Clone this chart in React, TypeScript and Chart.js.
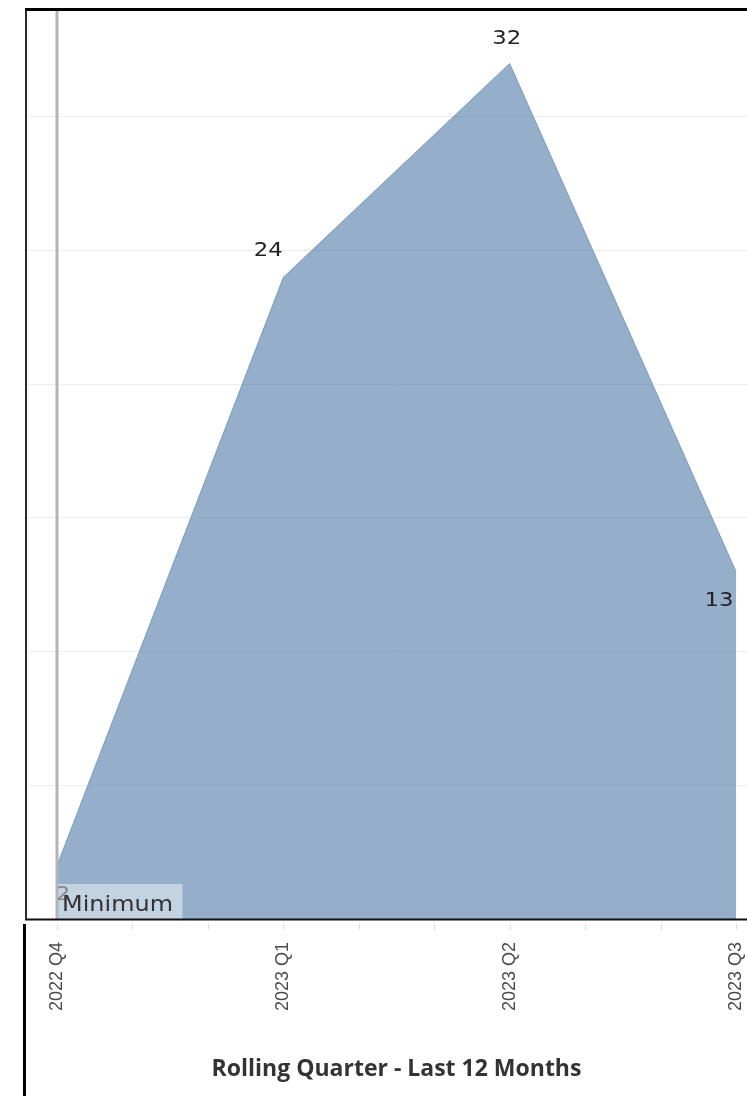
import React, { useEffect, useRef } from 'react';
import { Chart, registerables } from 'chart.js';

Chart.register(...registerables);

// ---- data ----
const quarters: string[] = ['2022 Q4', '2023 Q1', '2023 Q2', '2023 Q3'];
const counts: number[] = [2, 24, 32, 13];
const monthsPerQuarter = 3;
const referenceLabel = 'Minimum';
const axisTitle = 'Rolling Quarter - Last 12 Months';
const yStep = 5;
const yMax = 34;

const W = 767;
const H = 1096;
const STRETCH = 1.14;

function stretchedText(ctx: any, text: string, x: number, y: number, align: 'left' | 'center') {
  ctx.save();
  ctx.translate(x, y);
  ctx.scale(STRETCH, 1);
  ctx.textAlign = align;
  ctx.fillText(text, 0, 0);
  ctx.restore();
}

const decorPlugin = {
  id: 'decor',
  afterDatasetsDraw(chart: any) {
    const { ctx, chartArea, scales } = chart;
    const xs = scales.x;
    const { left, right, top, bottom } = chartArea;
    const meta = chart.getDatasetMeta(0);
    const offsets: [number, number][] = [
      [6, 29],
      [-15, -27],
      [-3, -25],
      [-17, 29],
    ];
    ctx.save();
    // data labels
    ctx.font = '20px "DejaVu Sans"';
    ctx.fillStyle = '#222222';
    ctx.textBaseline = 'middle';
    meta.data.forEach((pt: any, i: number) => {
      const o = offsets[i] || [0, -25];
      stretchedText(ctx, String(counts[i]), pt.x + o[0], pt.y + o[1], 'center');
    });
    // reference line at the first quarter
    const rx = xs.getPixelForValue(0);
    ctx.fillStyle = '#b4b4b4';
    ctx.fillRect(rx - 1.5, top, 3, bottom - top);
    // reference label box
    ctx.font = '21px "DejaVu Sans"';
    const tw = ctx.measureText(referenceLabel).width * STRETCH;
    ctx.fillStyle = 'rgba(255,255,255,0.45)';
    ctx.fillRect(rx + 1.5, bottom - 35, tw + 13, 35);
    ctx.fillStyle = '#333333';
    ctx.textBaseline = 'alphabetic';
    stretchedText(ctx, referenceLabel, rx + 5, bottom - 8, 'left');
    // borders
    ctx.fillStyle = '#000000';
    ctx.fillRect(left - 1, 8, right - left + 1, 3);
    ctx.fillStyle = '#2a2a2a';
    ctx.fillRect(left - 1, 10, 2, bottom - 10);
    ctx.fillStyle = '#111111';
    ctx.fillRect(left - 1, bottom - 0.5, right - left + 1, 2);
    // x pane left border
    ctx.fillStyle = '#000000';
    ctx.fillRect(left - 3, bottom + 5, 3, H - bottom - 5);
    // minor (month) ticks
    ctx.strokeStyle = '#dadada';
    ctx.lineWidth = 1;
    for (let k = 0; k <= (quarters.length - 1) * monthsPerQuarter; k++) {
      const x = Math.round(xs.getPixelForValue(k / monthsPerQuarter)) + 0.5;
      ctx.beginPath();
      ctx.moveTo(x, bottom + 5);
      ctx.lineTo(x, bottom + 11);
      ctx.stroke();
    }
    ctx.restore();
  },
};

export default function App() {
  const ref = useRef<HTMLCanvasElement | null>(null);
  useEffect(() => {
    if (!ref.current) return;
    const chart = new Chart(ref.current, {
      type: 'line',
      data: {
        datasets: [
          {
            data: counts.map((v, i) => ({ x: i, y: v })),
            fill: 'origin',
            backgroundColor: 'rgba(78,121,167,0.6)',
            borderColor: 'rgba(78,121,167,0.6)',
            borderWidth: 1,
            pointRadius: 0,
            tension: 0,
          },
        ],
      },
      options: {
        animation: false,
        responsive: false,
        maintainAspectRatio: false,
        layout: { padding: { left: 26, top: 10, right: 0, bottom: 0 } },
        plugins: {
          legend: { display: false },
          tooltip: { enabled: false },
        },
        scales: {
          x: {
            type: 'linear',
            min: -0.137,
            max: quarters.length - 1 + 0.137,
            afterBuildTicks: (s: any) => {
              s.ticks = quarters.map((_, i) => ({ value: i }));
            },
            afterFit: (s: any) => {
              s.height = 177;
              s.paddingLeft = 0;
              s.paddingRight = 0;
            },
            grid: { display: false, drawTicks: false },
            border: { display: false },
            ticks: {
              autoSkip: false,
              minRotation: 90,
              maxRotation: 90,
              padding: 23,
              color: '#4a4a4a',
              font: { family: '"Liberation Sans"', size: 18 },
              callback: (v: any) => quarters[Math.round(Number(v))] ?? '',
            },
            title: {
              display: true,
              text: axisTitle,
              color: '#333333',
              font: { family: '"Open Sans"', size: 23, weight: 'bold' },
              padding: { top: 0, bottom: 13 },
            },
          },
          y: {
            type: 'linear',
            min: 0,
            max: yMax,
            ticks: { display: false, stepSize: yStep },
            afterBuildTicks: (s: any) => {
              s.ticks = s.ticks.filter((t: any) => t.value % yStep === 0);
            },
            afterFit: (s: any) => {
              s.width = 0;
            },
            grid: { color: '#ececec', lineWidth: 1, drawTicks: false },
            border: { display: false },
          },
        },
      },
      plugins: [decorPlugin],
    });
    return () => chart.destroy();
  }, []);
  return (
    <div
      style={{
        position: 'absolute',
        left: 0,
        top: 0,
        width: 747,
        height: H,
        overflow: 'hidden',
        background: '#ffffff',
      }}
    >
      <canvas ref={ref} width={W} height={H} style={{ display: 'block', width: W, height: H }} />
    </div>
  );
}
